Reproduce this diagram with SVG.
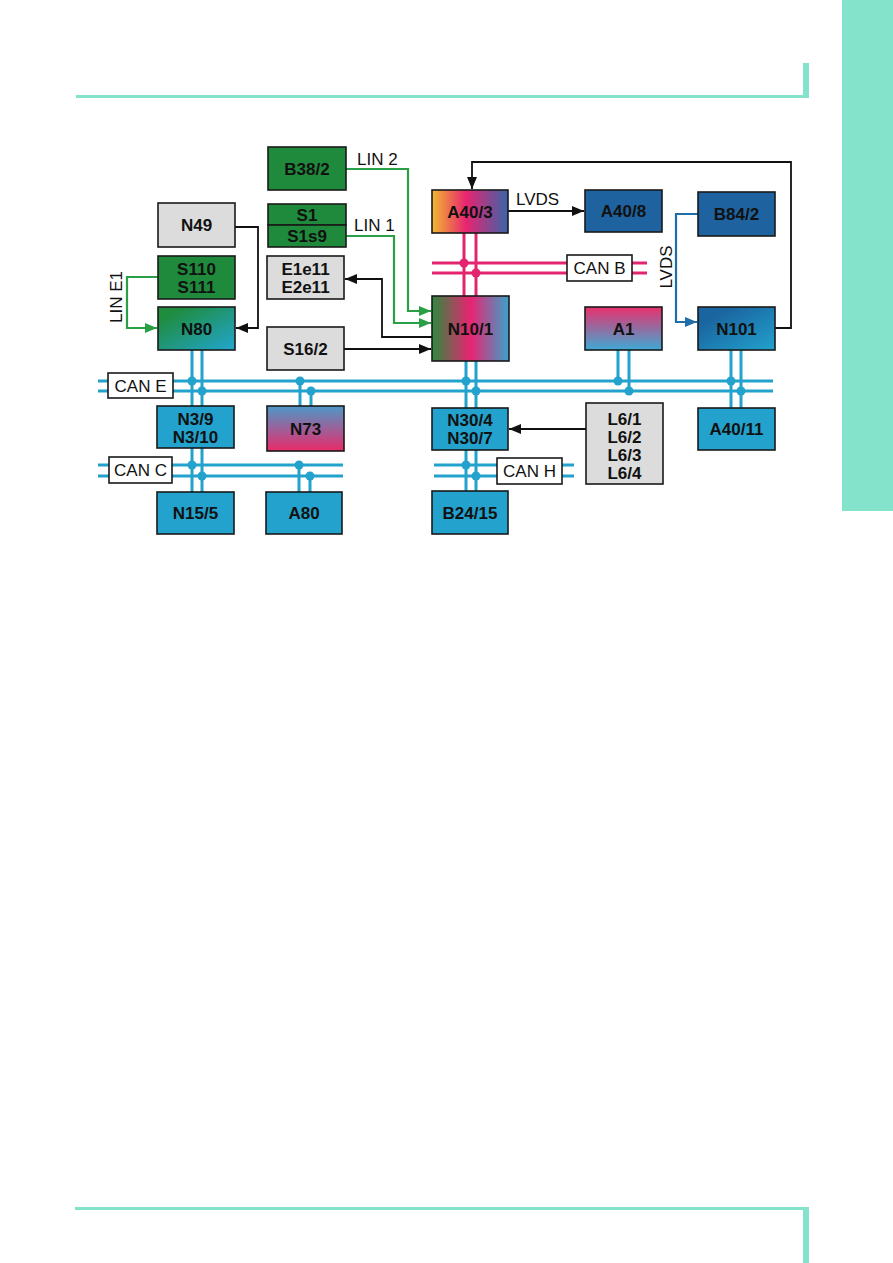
<svg xmlns="http://www.w3.org/2000/svg" width="893" height="1263" viewBox="0 0 893 1263">
<defs>
<style>
.nd{stroke:#1a1a1a;stroke-width:1.6}
.t{font-family:"Liberation Sans",Arial,sans-serif;font-weight:bold;font-size:17px;fill:#111;text-anchor:middle}
.l{font-family:"Liberation Sans",Arial,sans-serif;font-size:17px;fill:#111}
.lc{font-family:"Liberation Sans",Arial,sans-serif;font-size:17px;fill:#111;text-anchor:middle}
.lb{fill:#fff;stroke:#1a1a1a;stroke-width:1.6}
.k{fill:none;stroke:#111;stroke-width:1.8}
.g{fill:none;stroke:#2a9f45;stroke-width:2.2}
.bl{fill:none;stroke:#1f6ea8;stroke-width:2.2}
.cb{fill:none;stroke:#22a2cc;stroke-width:3}
.cm{fill:none;stroke:#e3246e;stroke-width:3}
.db{fill:#22a2cc}
.dm{fill:#e3246e}
.deco{fill:#84e3cb}
</style>
<marker id="ak" viewBox="0 0 12 10" refX="12" refY="5" markerWidth="12" markerHeight="10" markerUnits="userSpaceOnUse" orient="auto"><path d="M0,0 L12,5 L0,10 z" fill="#111"/></marker>
<marker id="ag" viewBox="0 0 12 10" refX="12" refY="5" markerWidth="12" markerHeight="10" markerUnits="userSpaceOnUse" orient="auto"><path d="M0,0 L12,5 L0,10 z" fill="#2a9f45"/></marker>
<marker id="ab" viewBox="0 0 12 10" refX="12" refY="5" markerWidth="12" markerHeight="10" markerUnits="userSpaceOnUse" orient="auto"><path d="M0,0 L12,5 L0,10 z" fill="#1f6ea8"/></marker>
<linearGradient id="gN80" x1="0" y1="0" x2="1" y2="1"><stop offset="0.15" stop-color="#1f8c3e"/><stop offset="1" stop-color="#22a6d0"/></linearGradient>
<linearGradient id="gN101" x1="0" y1="0" x2="1" y2="1"><stop offset="0.2" stop-color="#1a64a0"/><stop offset="1" stop-color="#22a2cc"/></linearGradient>
<linearGradient id="gA403" x1="0" y1="0" x2="1" y2="0"><stop offset="0" stop-color="#f2b830"/><stop offset="0.45" stop-color="#e82470"/><stop offset="1" stop-color="#3b64a8"/></linearGradient>
<linearGradient id="gN101b" x1="0" y1="0" x2="1" y2="0"><stop offset="0" stop-color="#2e8a3e"/><stop offset="0.5" stop-color="#e82470"/><stop offset="1" stop-color="#3aa2cc"/></linearGradient>
<linearGradient id="gA1" x1="0" y1="0" x2="0" y2="1"><stop offset="0" stop-color="#e8306e"/><stop offset="1" stop-color="#3eaad4"/></linearGradient>
<linearGradient id="gN73" x1="0" y1="0" x2="0" y2="1"><stop offset="0" stop-color="#4d98c8"/><stop offset="1" stop-color="#ea2a6a"/></linearGradient>
</defs>
<rect width="893" height="1263" fill="#fff"/>
<g id="page-decor">
<rect class="deco" x="842" y="0" width="51" height="511"/>
<rect class="deco" x="76" y="95" width="733" height="3"/>
<rect class="deco" x="803" y="63" width="6" height="35"/>
<rect class="deco" x="75" y="1207" width="734" height="3"/>
<rect class="deco" x="803" y="1207" width="6" height="56"/>
</g>
<g id="connectors">
<path class="cm" d="M464,233 V297 M476,233 V297 M432,263 H647 M432,273 H647"/>
<circle class="dm" cx="464" cy="263" r="4.5"/><circle class="dm" cx="476" cy="273" r="4.5"/>
<path class="cb" d="M98,381 H773 M98,391 H773 M192,350 V406 M202,350 V406 M300,381 V406 M311,391 V406 M466,361 V408 M476,361 V408 M618,350 V381 M629,350 V391 M731,350 V408 M741,350 V408"/>
<path class="cb" d="M98,465 H343 M98,476 H343 M192,448 V492 M202,448 V492 M299,465 V492 M310,476 V492"/>
<path class="cb" d="M434,465 H574 M434,476 H574 M466,450 V491 M476,450 V491"/>
<g>
<circle class="db" cx="192" cy="381" r="4.5"/><circle class="db" cx="202" cy="391" r="4.5"/>
<circle class="db" cx="300" cy="381" r="4.5"/><circle class="db" cx="311" cy="391" r="4.5"/>
<circle class="db" cx="466" cy="381" r="4.5"/><circle class="db" cx="476" cy="391" r="4.5"/>
<circle class="db" cx="618" cy="381" r="4.5"/><circle class="db" cx="629" cy="391" r="4.5"/>
<circle class="db" cx="731" cy="381" r="4.5"/><circle class="db" cx="741" cy="391" r="4.5"/>
<circle class="db" cx="192" cy="465" r="4.5"/><circle class="db" cx="202" cy="476" r="4.5"/>
<circle class="db" cx="299" cy="465" r="4.5"/><circle class="db" cx="310" cy="476" r="4.5"/>
<circle class="db" cx="466" cy="465" r="4.5"/><circle class="db" cx="476" cy="476" r="4.5"/>
</g>
<path class="k" d="M235,227 H258 V328 H236" marker-end="url(#ak)"/>
<path class="g" d="M158,277 H127 V328 H157" marker-end="url(#ag)"/>
<path class="g" d="M346,169 H408 V311 H431" marker-end="url(#ag)"/>
<path class="g" d="M346,236 H394 V323 H431" marker-end="url(#ag)"/>
<path class="k" d="M432,337 H382 V279 H345" marker-end="url(#ak)"/>
<path class="k" d="M344,349 H431" marker-end="url(#ak)"/>
<path class="k" d="M775,328 H791 V162 H472 V189" marker-end="url(#ak)"/>
<path class="k" d="M508,211 H584" marker-end="url(#ak)"/>
<path class="bl" d="M698,214 H676 V322 H697" marker-end="url(#ab)"/>
<path class="k" d="M586,429 H509" marker-end="url(#ak)"/>
<text class="l" x="357" y="165">LIN 2</text>
<text class="l" x="354" y="231">LIN 1</text>
<text class="l" x="516" y="205">LVDS</text>
<text class="lc" x="122" y="297" transform="rotate(-90 122 297)">LIN E1</text>
<text class="lc" x="672" y="267" transform="rotate(-90 672 267)">LVDS</text>
<rect class="lb" x="108" y="373" width="65" height="25"/><text class="lc" x="140.5" y="391.5">CAN E</text>
<rect class="lb" x="109" y="457" width="63" height="26"/><text class="lc" x="140.5" y="476">CAN C</text>
<rect class="lb" x="567" y="255" width="65" height="26"/><text class="lc" x="599.5" y="274">CAN B</text>
<rect class="lb" x="497" y="458" width="65" height="26"/><text class="lc" x="529.5" y="477">CAN H</text>
</g>
<g id="B38-2"><rect class="nd" x="268" y="147" width="78" height="43" fill="#1f8a3b"/><text class="t" x="307" y="174.5">B38/2</text></g>
<g id="N49"><rect class="nd" x="158" y="203" width="77" height="44" fill="#dcdcdc"/><text class="t" x="196.5" y="231">N49</text></g>
<g id="S1"><rect class="nd" x="268" y="204" width="78" height="21" fill="#1f8a3b"/><text class="t" x="307" y="220.5">S1</text><rect class="nd" x="268" y="225" width="78" height="22" fill="#1f8a3b"/><text class="t" x="307" y="242">S1s9</text></g>
<g id="S110"><rect class="nd" x="158" y="256" width="77" height="43" fill="#1f8a3b"/><text class="t" x="196.5" y="275">S110</text><text class="t" x="196.5" y="293">S111</text></g>
<g id="E1e11"><rect class="nd" x="267" y="256" width="77" height="43" fill="#dcdcdc"/><text class="t" x="305.5" y="275">E1e11</text><text class="t" x="305.5" y="293">E2e11</text></g>
<g id="N80"><rect class="nd" x="158" y="307" width="77" height="43" fill="url(#gN80)"/><text class="t" x="196.5" y="334.5">N80</text></g>
<g id="S16-2"><rect class="nd" x="267" y="327" width="77" height="43" fill="#dcdcdc"/><text class="t" x="305.5" y="354.5">S16/2</text></g>
<g id="A40-3"><rect class="nd" x="432" y="190" width="76" height="43" fill="url(#gA403)"/><text class="t" x="470" y="217.5">A40/3</text></g>
<g id="N10-1"><rect class="nd" x="432" y="296" width="77" height="65" fill="url(#gN101b)"/><text class="t" x="470.5" y="334.5">N10/1</text></g>
<g id="A40-8"><rect class="nd" x="585" y="190" width="77" height="42" fill="#1e63a0"/><text class="t" x="623.5" y="217">A40/8</text></g>
<g id="B84-2"><rect class="nd" x="698" y="192" width="77" height="44" fill="#1e63a0"/><text class="t" x="736.5" y="220">B84/2</text></g>
<g id="A1"><rect class="nd" x="585" y="307" width="77" height="43" fill="url(#gA1)"/><text class="t" x="623.5" y="334.5">A1</text></g>
<g id="N101"><rect class="nd" x="698" y="307" width="77" height="43" fill="url(#gN101)"/><text class="t" x="736.5" y="334.5">N101</text></g>
<g id="N3-9"><rect class="nd" x="157" y="406" width="77" height="42" fill="#22a2cc"/><text class="t" x="195.5" y="424.5">N3/9</text><text class="t" x="195.5" y="442.5">N3/10</text></g>
<g id="N73"><rect class="nd" x="267" y="406" width="77" height="45" fill="url(#gN73)"/><text class="t" x="305.5" y="434.5">N73</text></g>
<g id="N15-5"><rect class="nd" x="157" y="492" width="77" height="42" fill="#22a2cc"/><text class="t" x="195.5" y="519">N15/5</text></g>
<g id="A80"><rect class="nd" x="266" y="492" width="76" height="42" fill="#22a2cc"/><text class="t" x="304" y="519">A80</text></g>
<g id="N30-4"><rect class="nd" x="432" y="408" width="76" height="42" fill="#22a2cc"/><text class="t" x="470" y="426">N30/4</text><text class="t" x="470" y="444">N30/7</text></g>
<g id="L6"><rect class="nd" x="586" y="403" width="77" height="81" fill="#dcdcdc"/><text class="t" x="624.5" y="425">L6/1</text><text class="t" x="624.5" y="443">L6/2</text><text class="t" x="624.5" y="461">L6/3</text><text class="t" x="624.5" y="479">L6/4</text></g>
<g id="A40-11"><rect class="nd" x="698" y="408" width="77" height="42" fill="#22a2cc"/><text class="t" x="736.5" y="435">A40/11</text></g>
<g id="B24-15"><rect class="nd" x="432" y="491" width="76" height="43" fill="#22a2cc"/><text class="t" x="470" y="518.5">B24/15</text></g>
</svg>
